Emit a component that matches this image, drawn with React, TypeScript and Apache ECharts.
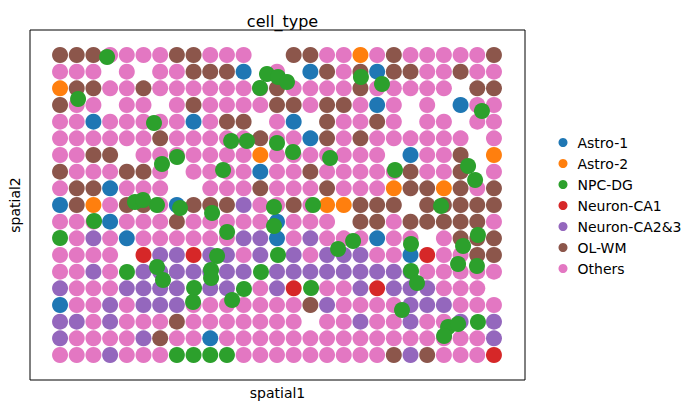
import React, { useEffect, useRef } from "react";
import * as echarts from "echarts";

const FONT = "DejaVu Sans";

const cellTypes = ["Astro-1", "Astro-2", "NPC-DG", "Neuron-CA1", "Neuron-CA2&3", "OL-WM", "Others"];
const typeColors = ["#1f77b4", "#ff7f0e", "#2ca02c", "#d62728", "#9467bd", "#8c564b", "#e377c2"];
// one letter per spot on the array grid; "." = no spot
const typeCodes = ["A", "O", "G", "R", "V", "B", "P"];

// rows of the spot array, top to bottom, 27 columns each
const spotRows = [
  "BBBPPPPBBPPP..BBPPOPBPPPPPB",
  "PPP.P.PPBBBA.P.ABPBABBPPBPP",
  "OBBPPBPPPPPPPBPPPPBPPPPP.BB",
  "BPP.PP.PBPPPPBBPBBPAP.P.APP",
  "PPAPPPPPAPBB.PA.BPPBP.PP.PP",
  "PPPPPPBPPPPPBPPABPBPPPPPP.P",
  "PPBB.PPPPPPPOPPPPPPP.APPB.O",
  "BPPPBBP.PPPPAPPBPPPPPBPPB.P",
  "PBBAPPP..PPPBPPPBPPPOBBOBPB",
  "ABOPBBPABBBVPPBPOOBBB.BBBBB",
  "PPPAPPPBPPPPPAPPP.BBPBBBBBP",
  ".PVPAPPPPPPVVAPVPPPAPP.PBBB",
  "PPPP.RVVRVVPV.VPVVVPPARPPBB",
  "PPVP.VVVVVVV.VVVVVVVVVPPPPP",
  "VPPPVVVV.VV.PVR.PPVRVVVPPP.",
  "APPVPVVVPPPPPPPBVPPPPVVVPPP",
  "VVPVPPPBPPPPPPP.PPVPPVPPV.V",
  "VPPPPVBPPAPPPPPPPPPPPPPPPPV",
  "PPPVPPP....PPPPPPPPPBVBPPPR",
];

// NPC-DG spots (column, row in array units)
const npcDgX = [
  2.82, 1.08, 12.4, 13.06, 13.6, 11.98, 18.03, 19.29, 25.28, 5.63, 10.25, 11.2, 13.0, 6.11, 7.01, 13.96,
  16.18, 9.77, 20.07, 24.45, 24.87, 4.49, 4.97, 5.81, 7.19, 9.11, 12.82, 15.16, 22.83, 2.04, 12.82, 0,
  10.01, 16.66, 17.56, 21.03, 24.15, 25.04, 9.41, 13.06, 5.81, 6.17, 4.01, 9.05, 9.05, 12.04, 21.03, 21.39,
  23.85, 24.98, 8.03, 11.02, 15.04, 7.97, 10.31, 20.49, 23.25, 23.85, 25.04, 23.01, 7, 8, 9, 10,
];
const npcDgY = [
  0.12, 2.64, 1.14, 1.32, 1.62, 1.98, 1.32, 1.74, 3.36, 4.08, 5.16, 5.16, 5.28, 6.54, 6.12, 5.82,
  6.18, 6.9, 6.9, 6.66, 7.5, 8.82, 8.7, 9.0, 9.18, 9.48, 9.12, 9.0, 9.06, 9.96, 10.26, 10.98,
  10.62, 11.64, 11.16, 11.34, 11.46, 10.8, 12.06, 12.0, 12.72, 13.5, 13.02, 12.9, 13.38, 13.02, 12.96, 13.68,
  12.54, 12.66, 13.98, 14.04, 13.98, 14.82, 14.7, 15.3, 16.32, 16.14, 16.02, 16.86, 18, 18, 18, 18,
];

function spotsOf(code: string): number[][] {
  const out: number[][] = [];
  spotRows.forEach((row, r) => {
    for (let c = 0; c < row.length; c++) {
      if (row[c] === code) out.push([c, r]);
    }
  });
  return out;
}

export default function App() {
  const ref = useRef<HTMLDivElement>(null);

  useEffect(() => {
    if (!ref.current) return;
    const chart = echarts.init(ref.current, undefined, { renderer: "svg" });

    const series = cellTypes.map((name, i) => {
      const data =
        name === "NPC-DG"
          ? npcDgX.map((x, k) => [x, npcDgY[k]])
          : spotsOf(typeCodes[i]);
      return {
        name,
        type: "scatter",
        data,
        symbol: "circle",
        symbolSize: 16,
        z: name === "NPC-DG" ? 3 : 2,
        itemStyle: { color: typeColors[i], opacity: 1 },
        emphasis: { disabled: true },
      };
    });

    chart.setOption({
      animation: false,
      title: {
        text: "cell_type",
        left: 277.5,
        top: 8,
        textAlign: "center",
        textStyle: { fontFamily: FONT, fontSize: 16, fontWeight: "normal", color: "#000" },
      },
      grid: {
        left: 30,
        top: 30,
        width: 495,
        height: 350,
        show: true,
        borderColor: "#000",
        borderWidth: 1,
        backgroundColor: "transparent",
      },
      xAxis: {
        type: "value",
        min: -1.8,
        max: 27.86,
        name: "spatial1",
        nameLocation: "middle",
        nameGap: 6,
        nameTextStyle: { fontFamily: FONT, fontSize: 14, color: "#000", verticalAlign: "top" },
        axisLine: { show: false },
        axisTick: { show: false },
        axisLabel: { show: false },
        splitLine: { show: false },
      },
      yAxis: {
        type: "value",
        inverse: true,
        min: -1.5,
        max: 19.5,
        name: "spatial2",
        nameLocation: "middle",
        nameGap: 8,
        nameTextStyle: { fontFamily: FONT, fontSize: 14, color: "#000" },
        axisLine: { show: false },
        axisTick: { show: false },
        axisLabel: { show: false },
        splitLine: { show: false },
      },
      legend: {
        orient: "vertical",
        left: 553.5,
        top: 127,
        itemWidth: 9,
        itemHeight: 9,
        itemGap: 0,
        icon: "circle",
        data: cellTypes,
        textStyle: {
          fontFamily: FONT,
          fontSize: 14,
          lineHeight: 21,
          color: "#000",
          padding: [0, 0, 0, 5],
        },
      },
      series,
    });

    return () => chart.dispose();
  }, []);

  return (
    <div
      ref={ref}
      style={{ position: "fixed", left: 0, top: 0, width: 695, height: 410, background: "#fff" }}
    />
  );
}
